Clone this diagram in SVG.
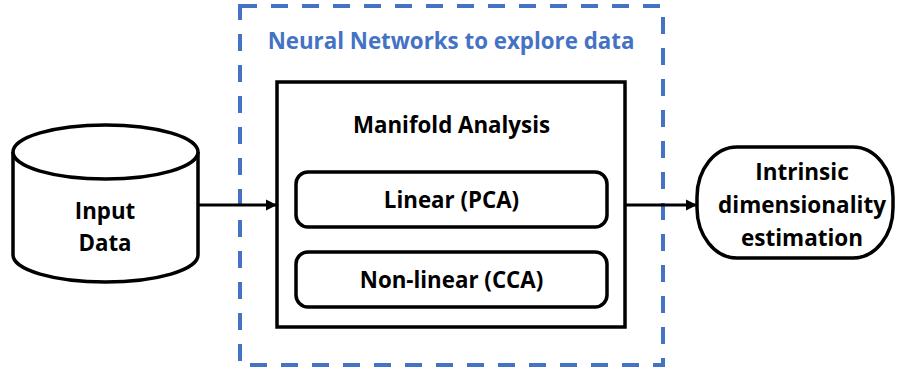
<svg xmlns="http://www.w3.org/2000/svg" width="903" height="371" viewBox="0 0 903 371">
  <style>
    .t { font-family: "Open Sans", "Noto Sans", "Liberation Sans", sans-serif; font-weight: bold; font-size: 22.3px; text-anchor: middle; dominant-baseline: central; fill: #000; }
    .big { font-size: 22.5px; }
    .blk { fill: #fff; stroke: #000; stroke-width: 3.5; }
    .conn { stroke: #000; stroke-width: 3; fill: none; }
  </style>
  <defs>
    <marker id="arrow" viewBox="0 0 10 10" refX="10" refY="5" markerWidth="3.8" markerHeight="4" markerUnits="strokeWidth" orient="auto">
      <path d="M0,0 L10,5 L0,10 z" fill="#000"/>
    </marker>
  </defs>
  <rect width="903" height="371" fill="#fff"/>

  <!-- container frame -->
  <g id="nn-frame">
    <rect x="240" y="6" width="423" height="359" fill="none" stroke="#4472C4" stroke-width="4" stroke-dasharray="17 14"/>
    <text class="t" x="451" y="40" style="fill:#4472C4">Neural Networks to explore data</text>
  </g>

  <!-- data store -->
  <g id="input-data">
    <path class="blk" d="M13,152 L13,255 A92.5,27 0 0 0 198,255 L198,152"/>
    <ellipse class="blk" cx="105.5" cy="152" rx="92.5" ry="27"/>
    <text class="t" x="105" y="210">Input</text>
    <text class="t" x="105" y="242">Data</text>
  </g>

  <!-- manifold analysis block -->
  <g id="manifold">
    <rect class="blk" x="277" y="82" width="348" height="245"/>
    <text class="t" x="451.5" y="124">Manifold Analysis</text>
  </g>
  <g id="linear">
    <rect class="blk" x="296" y="172" width="311" height="55" rx="12"/>
    <text class="t" x="451.5" y="199">Linear (PCA)</text>
  </g>
  <g id="nonlinear">
    <rect class="blk" x="296" y="252" width="311" height="55" rx="12"/>
    <text class="t" x="451.5" y="279">Non-linear (CCA)</text>
  </g>

  <!-- result terminal -->
  <g id="estimation">
    <rect class="blk" x="697" y="147" width="196" height="111" rx="40" ry="50"/>
    <text class="t big" x="802" y="171">Intrinsic</text>
    <text class="t big" x="802" y="204">dimensionality</text>
    <text class="t big" x="802" y="237">estimation</text>
  </g>

  <!-- connectors -->
  <g id="connectors">
    <line class="conn" x1="198" y1="205" x2="277" y2="205" marker-end="url(#arrow)"/>
    <line class="conn" x1="625" y1="205" x2="697" y2="205" marker-end="url(#arrow)"/>
  </g>
</svg>
